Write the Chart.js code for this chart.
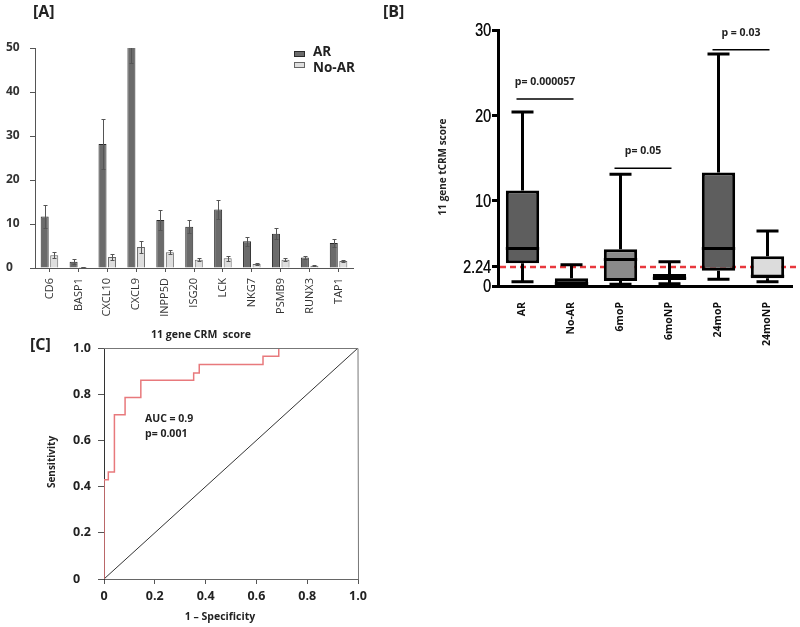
<!DOCTYPE html>
<html><head><meta charset="utf-8">
<script src="https://cdn.jsdelivr.net/npm/chart.js@4/dist/chart.umd.min.js"></script>
<style>
html,body{margin:0;padding:0;background:#fff;}
#wrap{position:relative;width:800px;height:627px;overflow:hidden;background:#fff;}
canvas{position:absolute;}
</style></head><body>
<div id="wrap">
<canvas id="ca" width="380" height="325" style="left:0;top:0"></canvas>
<canvas id="cb" width="420" height="355" style="left:380px;top:0"></canvas>
<canvas id="cc" width="380" height="302" style="left:0;top:325px"></canvas>
</div>
<script>
// ---------- Panel A data ----------
const genes = ['CD6','BASP1','CXCL10','CXCL9','INPP5D','ISG20','LCK','NKG7','PSMB9','RUNX3','TAP1'];
const arMean = [11.7,1.4,28.2,51,10.9,9.4,13.3,6.1,7.8,2.4,5.7];
const arErr = [2.6,0.6,5.6,4.3,2.3,1.5,2.1,1.0,1.2,0.4,1.0];
const noArMean = [2.9,0.2,2.5,4.8,3.6,1.9,2.2,0.9,1.9,0.5,1.6];
const noArErr = [0.7,0.05,0.6,1.3,0.5,0.3,0.6,0.2,0.3,0.1,0.2];
const aTicks = [0,10,20,30,40,50];

// ---------- Panel B data ----------
const groups = ['AR','No-AR','6moP','6moNP','24moP','24moNP'];
const bMin = [0.5,0,0.2,0.25,0.8,0.5];
const bQ1  = [2.66,0,0.6,0.7,1.8,0.9];
const bMed = [4.4,0.3,3.1,0.9,4.4,1.15];
const bQ3  = [11.2,0.9,4.3,1.4,13.3,3.5];
const bMax = [20.4,2.5,13.1,2.85,27.2,6.45];
const bTicks = [0,2.24,10,20,30];
const cutoff = 2.24;
const pLabels = ['p= 0.000057','p= 0.05','p = 0.03'];
const pFrom = [0,2,4];
const pTo = [1,3,5];
const pLevel = [21.9,13.8,27.7];

// ---------- Panel C data ----------
const fpr = [0,0,0.017,0.041,0.083,0.145,0.353,0.375,0.626,0.688,1.0];
const tpr = [0,0.43,0.463,0.711,0.786,0.86,0.892,0.929,0.964,1.0,1.0];
const refX = [0,1];
const refY = [0,1];
const cTicks = [0,0.2,0.4,0.6,0.8,1.0];

const SANS = "'Open Sans', 'Noto Sans', sans-serif";

function textPlugin(id, items){
  return {id, afterDraw(chart){
    const ctx = chart.ctx; ctx.save();
    items.forEach(t=>{
      ctx.font = t.font; ctx.fillStyle = t.color || '#222';
      ctx.textAlign = t.align || 'left'; ctx.textBaseline = 'middle';
      if (t.rot){ ctx.save(); ctx.translate(t.x,t.y); ctx.rotate(t.rot); ctx.fillText(t.text,0,0); ctx.restore(); }
      else ctx.fillText(t.text, t.x, t.y);
    });
    ctx.restore();
  }};
}

// ---------- Panel A ----------
const errorBars = {
  id:'errbars',
  afterDatasetsDraw(chart){
    const ctx = chart.ctx, ys = chart.scales.y, a = chart.chartArea;
    ctx.save();
    ctx.beginPath(); ctx.rect(a.left, a.top, a.right-a.left, a.bottom-a.top); ctx.clip();
    ctx.strokeStyle = '#555'; ctx.lineWidth = 1;
    chart.data.datasets.forEach((ds,i)=>{
      const meta = chart.getDatasetMeta(i);
      meta.data.forEach((bar,j)=>{
        const v = ds.data[j], e = ds.errors[j];
        const x = Math.round(bar.x)+0.5;
        const yt = Math.round(ys.getPixelForValue(v+e))+0.5, yb = Math.round(ys.getPixelForValue(v-e))+0.5;
        ctx.beginPath();
        ctx.moveTo(x,yt); ctx.lineTo(x,yb);
        ctx.moveTo(x-2,yt); ctx.lineTo(x+2,yt);
        ctx.moveTo(x-2,yb); ctx.lineTo(x+2,yb);
        ctx.stroke();
      });
    });
    ctx.restore();
  }
};
const legendA = {
  id:'legendA',
  afterDraw(chart){
    const ctx = chart.ctx; ctx.save();
    ctx.lineWidth = 1;
    ctx.fillStyle = '#6b6b6b'; ctx.strokeStyle = '#2a2a2a';
    ctx.fillRect(294.5,51.5,10,5); ctx.strokeRect(294.5,51.5,10,5);
    ctx.fillStyle = '#dedede'; ctx.strokeStyle = '#666';
    ctx.fillRect(294.5,62.5,10,5); ctx.strokeRect(294.5,62.5,10,5);
    ctx.restore();
  }
};
new Chart(document.getElementById('ca'), {
  type:'bar',
  data:{labels:genes, datasets:[
    {label:'AR', data:arMean, errors:arErr, backgroundColor:'#6b6b6b', borderColor:'#2a2a2a', borderWidth:1, categoryPercentage:0.66, barPercentage:0.84},
    {label:'No-AR', data:noArMean, errors:noArErr, backgroundColor:'#dedede', borderColor:'#666', borderWidth:1, categoryPercentage:0.66, barPercentage:0.84}
  ]},
  options:{
    responsive:false, animation:false, devicePixelRatio:1,
    layout:{padding:{left:6, top:48, right:27, bottom:0}},
    plugins:{legend:{display:false}, tooltip:{enabled:false}},
    scales:{
      x:{ offset:true,
          grid:{display:true, drawOnChartArea:false, offset:false, tickLength:4, color:'#555'},
          border:{color:'#555'},
          ticks:{minRotation:90, maxRotation:90, autoSkip:false, padding:6, color:'#333', font:{family:SANS, size:11}},
          afterFit(s){ s.height = 57; } },
      y:{ min:0, max:50,
          afterBuildTicks(s){ s.ticks = aTicks.map(v=>({value:v})); },
          grid:{drawOnChartArea:false, tickLength:5, color:'#555'},
          border:{color:'#555'},
          ticks:{crossAlign:'far', color:'#333', font:{family:SANS, size:12, weight:'bold'}},
          afterFit(s){ s.width = 29; } }
    }
  },
  plugins:[errorBars, legendA, textPlugin('txtA', [
    {text:'[A]', x:33, y:12, font:"bold 16px "+SANS, color:'#222'},
    {text:'AR', x:313, y:52, font:"bold 13.5px "+SANS, color:'#222'},
    {text:'No-AR', x:313, y:68, font:"bold 13.5px "+SANS, color:'#222'}
  ])]
});

// ---------- Panel B ----------
const cutoffLine = {
  id:'cutoff',
  beforeDatasetsDraw(chart){
    const ctx = chart.ctx, ys = chart.scales.y, a = chart.chartArea;
    const y = ys.getPixelForValue(cutoff);
    ctx.save(); ctx.strokeStyle = '#e8383d'; ctx.lineWidth = 2.5; ctx.setLineDash([6,4]);
    ctx.beginPath(); ctx.moveTo(a.left+2, y); ctx.lineTo(chart.width-3, y); ctx.stroke();
    ctx.restore();
  }
};
const narrowTicks = {
  id:'narrowTicks',
  afterDraw(chart){
    const ctx = chart.ctx, ys = chart.scales.y;
    ctx.save();
    ctx.fillStyle = '#111'; ctx.font = "19px 'Liberation Sans', Arial, sans-serif";
    ctx.textAlign = 'right'; ctx.textBaseline = 'middle';
    const xr = ys.right - 6 - 1;
    bTicks.forEach(v=>{
      const y = ys.getPixelForValue(v) + 1;
      ctx.save(); ctx.translate(xr, y); ctx.scale(0.76, 1);
      ctx.fillText(String(v), 0, 0);
      ctx.fillText(String(v), 0.4, 0);
      ctx.restore();
    });
    ctx.restore();
  }
};
const whiskers = {
  id:'whiskers',
  afterDatasetsDraw(chart){
    const ctx = chart.ctx, ys = chart.scales.y, xs = chart.scales.x;
    const meta = chart.getDatasetMeta(0);
    ctx.save(); ctx.strokeStyle = '#000'; ctx.lineWidth = 3; ctx.lineCap = 'butt';
    meta.data.forEach((bar,i)=>{
      const x = bar.x, hw = bar.width/2, cw = 11;
      const pMin = ys.getPixelForValue(bMin[i]), pQ1 = ys.getPixelForValue(bQ1[i]);
      const pQ3 = ys.getPixelForValue(bQ3[i]), pMax = ys.getPixelForValue(bMax[i]);
      const pMed = ys.getPixelForValue(bMed[i]);
      ctx.beginPath();
      ctx.moveTo(x,pQ3); ctx.lineTo(x,pMax);
      ctx.moveTo(x-cw,pMax); ctx.lineTo(x+cw,pMax);
      ctx.moveTo(x,pQ1); ctx.lineTo(x,pMin);
      ctx.moveTo(x-cw,pMin); ctx.lineTo(x+cw,pMin);
      ctx.moveTo(x-hw,pMed); ctx.lineTo(x+hw,pMed);
      ctx.stroke();
    });
    // significance brackets
    ctx.lineWidth = 1.5;
    ctx.fillStyle = '#222'; ctx.font = "bold 10.5px "+SANS; ctx.textAlign='center'; ctx.textBaseline='middle';
    pLabels.forEach((lab,k)=>{
      const x1 = xs.getPixelForValue(pFrom[k]) - 6, x2 = xs.getPixelForValue(pTo[k]) + 2;
      const y = ys.getPixelForValue(pLevel[k]);
      ctx.beginPath(); ctx.moveTo(x1,y); ctx.lineTo(x2,y); ctx.stroke();
      ctx.fillText(lab, (x1+x2)/2, y-17);
    });
    ctx.restore();
  }
};
new Chart(document.getElementById('cb'), {
  type:'bar',
  data:{labels:groups, datasets:[{
    label:'11 gene tCRM score',
    data: groups.map((g,i)=>[bQ1[i], bQ3[i]]),
    backgroundColor:['#5e5e5e','#111111','#8a8a8a','#2a2a2a','#5e5e5e','#dcdcdc'],
    borderColor:'#000', borderWidth:3, borderSkipped:false,
    categoryPercentage:1, barPercentage:0.68
  }]},
  options:{
    responsive:false, animation:false, devicePixelRatio:1,
    layout:{padding:{left:0, top:30, right:8, bottom:0}},
    plugins:{legend:{display:false}, tooltip:{enabled:false}},
    scales:{
      x:{ offset:true,
          grid:{display:false, drawTicks:false},
          border:{display:true, color:'#000', width:3},
          ticks:{minRotation:90, maxRotation:90, autoSkip:false, padding:16, color:'#111', font:{family:SANS, size:10.5, weight:'bold'}},
          afterFit(s){ s.height = 69; } },
      y:{ min:0, max:30,
          afterBuildTicks(s){ s.ticks = bTicks.map(v=>({value:v})); },
          grid:{display:true, drawOnChartArea:false, tickLength:6, tickWidth:3, tickColor:'#000', color:'#000'},
          border:{display:true, color:'#000', width:3},
          ticks:{display:false},
          afterFit(s){ s.width = 118; } }
    }
  },
  plugins:[cutoffLine, whiskers, narrowTicks, textPlugin('txtB', [
    {text:'[B]', x:3, y:12, font:"bold 16px "+SANS, color:'#222'},
    {text:'11 gene tCRM score', x:63, y:167, rot:-Math.PI/2, align:'center', font:"bold 10px "+SANS, color:'#222'}
  ])]
});

// ---------- Panel C ----------
const boxC = {
  id:'boxC',
  afterDraw(chart){
    const a = chart.chartArea, ctx = chart.ctx;
    ctx.save(); ctx.strokeStyle = '#777'; ctx.lineWidth = 1;
    ctx.beginPath();
    ctx.moveTo(Math.round(a.left), Math.round(a.top)+0.5); ctx.lineTo(Math.round(a.right), Math.round(a.top)+0.5);
    ctx.lineTo(Math.round(a.right)+0.5, Math.round(a.bottom));
    ctx.stroke(); ctx.restore();
  }
};
new Chart(document.getElementById('cc'), {
  type:'scatter',
  data:{datasets:[
    {label:'ROC', data: fpr.map((x,i)=>({x, y:tpr[i]})), showLine:true, stepped:'before', borderColor:'#e8797c', borderWidth:1.5, pointRadius:0, fill:false},
    {label:'Reference', data: refX.map((x,i)=>({x, y:refY[i]})), showLine:true, borderColor:'#333', borderWidth:1, pointRadius:0, fill:false}
  ]},
  options:{
    responsive:false, animation:false, devicePixelRatio:1,
    layout:{padding:{left:73, top:23, right:22, bottom:0}},
    plugins:{legend:{display:false}, tooltip:{enabled:false}},
    scales:{
      x:{ type:'linear', min:0, max:1,
          afterBuildTicks(s){ s.ticks = cTicks.map(v=>({value:v})); },
          grid:{drawOnChartArea:false, tickLength:5, color:'#555'},
          border:{color:'#666'},
          ticks:{padding:5, color:'#222', callback:(v)=> v===0 ? '0' : v.toFixed(1), font:{family:SANS, size:12.5, weight:'bold'}},
          afterFit(s){ s.height = 48; } },
      y:{ type:'linear', min:0, max:1,
          afterBuildTicks(s){ s.ticks = cTicks.map(v=>({value:v})); },
          grid:{drawOnChartArea:false, tickLength:6, color:'#555'},
          border:{color:'#333'},
          ticks:{crossAlign:'far', color:'#222', callback:(v)=> v===0 ? '0' : v.toFixed(1), font:{family:SANS, size:12.5, weight:'bold'}},
          afterFit(s){ s.width = 31; } }
    }
  },
  plugins:[boxC, textPlugin('txtC', [
    {text:'[C]', x:30, y:20, font:"bold 16px "+SANS, color:'#222'},
    {text:'11 gene CRM  score', x:201, y:10, align:'center', font:"bold 10.5px "+SANS, color:'#222'},
    {text:'AUC = 0.9', x:145, y:94, font:"bold 10.5px "+SANS, color:'#222'},
    {text:'p= 0.001', x:145, y:109, font:"bold 10.5px "+SANS, color:'#222'},
    {text:'1 – Specificity', x:220, y:292, align:'center', font:"bold 10.5px "+SANS, color:'#222'},
    {text:'Sensitivity', x:52, y:137, rot:-Math.PI/2, align:'center', font:"bold 10px "+SANS, color:'#222'}
  ])]
});
</script>
</body></html>
